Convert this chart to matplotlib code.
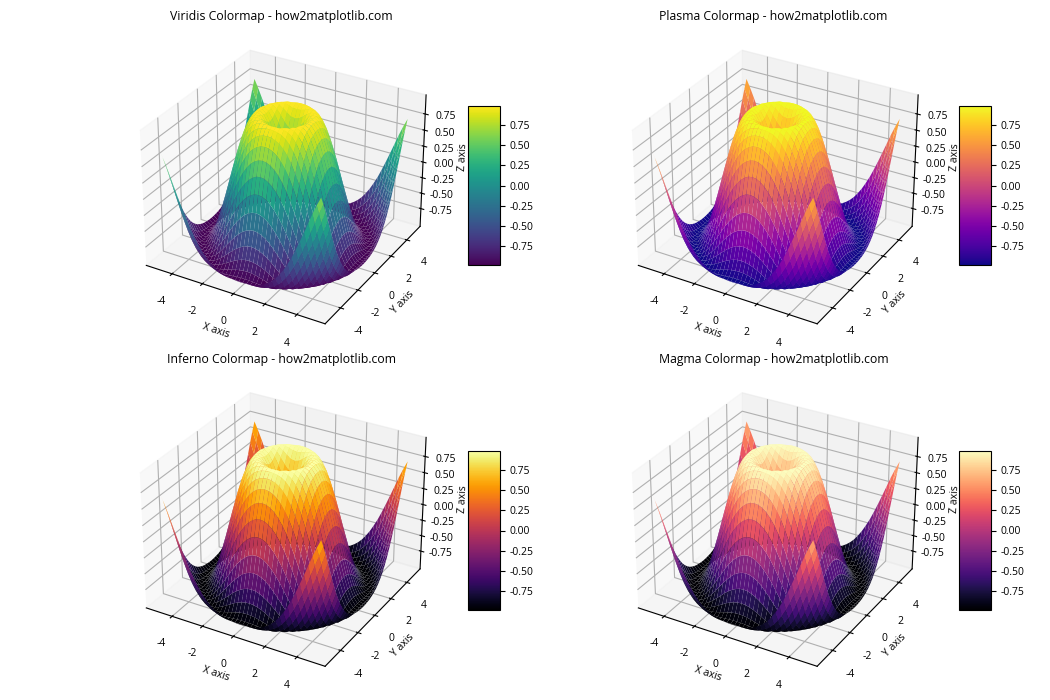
import numpy as np
from matplotlib import pyplot as plt

plt.rcParams['font.family'] = ['Open Sans', 'DejaVu Sans']
plt.rcParams['axes.unicode_minus'] = False

titles = ['Viridis Colormap - how2matplotlib.com', 'Plasma Colormap - how2matplotlib.com',
          'Inferno Colormap - how2matplotlib.com', 'Magma Colormap - how2matplotlib.com']
cmaps = ['viridis', 'plasma', 'inferno', 'magma']
axis_ticks = [-4, -2, 0, 2, 4]
z_ticks = [-0.75, -0.5, -0.25, 0, 0.25, 0.5, 0.75]

# height of the surface, one triangle of the symmetric grid, from centre to corner
z_rows = [
    [0.000],
    [.247, .346],
    [.479, .530, .650],
    [.682, .711, .784, .873],
    [.841, .858, .900, .949, .988],
    [.949, .957, .975, .994, 1.000, .981],
    [.997, .999, 1.000, .994, .973, .928, .853],
    [.984, .981, .969, .945, .903, .837, .742, .619],
    [.909, .903, .882, .845, .787, .706, .598, .465, .308],
    [.778, .769, .742, .696, .629, .537, .425, .287, .131, -.040],
    [.598, .588, .558, .507, .434, .339, .224, .089, -.060, -.220, -.384],
    [.382, .373, .339, .287, .214, .121, .009, -.118, -.256, -.399, -.544, -.679],
    [.141, .131, .100, .049, -.020, -.108, -.211, -.325, -.448, -.572, -.691, -.801, -.892],
    [-.108, -.118, -.146, -.192, -.256, -.333, -.422, -.523, -.625, -.724, -.818, -.898, -.958, -.993],
    [-.351, -.359, -.384, -.422, -.477, -.544, -.618, -.696, -.777, -.852, -.917, -.966, -.995, -.998, -.972],
    [-.572, -.579, -.599, -.632, -.673, -.724, -.783, -.839, -.895, -.943, -.979, -.998, -.996, -.969, -.914, -.831],
    [-.757, -.762, -.777, -.801, -.831, -.869, -.905, -.941, -.971, -.992, -1.000, -.990, -.959, -.904, -.824, -.719, -.586],
    [-.895, -.898, -.908, -.923, -.941, -.960, -.979, -.993, -1.000, -.995, -.977, -.940, -.884, -.805, -.702, -.577, -.431, -.270],
    [-.978, -.979, -.983, -.989, -.995, -.999, -.999, -.993, -.978, -.948, -.907, -.847, -.767, -.671, -.550, -.412, -.260, -.093, .081],
    [-.999, -.999, -.998, -.995, -.990, -.980, -.964, -.940, -.904, -.856, -.792, -.713, -.615, -.505, -.374, -.231, -.073, .091, .257, .419],
    [-.959, -.957, -.950, -.942, -.926, -.904, -.875, -.834, -.783, -.719, -.638, -.546, -.436, -.317, -.179, -.033, .120, .276, .434, .578, .708],
]

# mirror the triangle out to the whole grid
n = len(z_rows) - 1
idx = np.abs(np.arange(-n, n + 1))
z = np.array([[z_rows[max(a, b)][min(a, b)] for b in idx] for a in idx])
x = np.linspace(-5, 5, 2 * n + 1)
xx, yy = np.meshgrid(x, x)

fig = plt.figure(figsize=(10.5, 7), dpi=100)
axes = []
bars = []
for i in range(4):
    ax = fig.add_subplot(2, 2, i + 1, projection='3d')
    surf = ax.plot_surface(xx, yy, z, cmap=cmaps[i], rcount=50, ccount=50)
    ax.set_title(titles[i], fontsize=8.8, pad=2)
    ax.set_xlabel('X axis', fontsize=7.5, labelpad=-2)
    ax.set_ylabel('Y axis', fontsize=7.5, labelpad=-2)
    ax.set_zlabel('Z axis', fontsize=7.5, labelpad=-3)
    ax.set_xticks(axis_ticks)
    ax.set_yticks(axis_ticks)
    ax.set_zticks(z_ticks)
    ax.tick_params(labelsize=7.5)
    ax.tick_params(axis='z', pad=1)
    cb = fig.colorbar(surf, ax=ax, shrink=0.5, aspect=5, ticks=z_ticks)
    cb.ax.tick_params(labelsize=7.5)
    axes.append(ax)
    bars.append(cb)
plt.tight_layout()

# nudge the panels to sit where the reference has them
for i in range(4):
    p = axes[i].get_position()
    w = p.width * 1.012
    h = p.height * 1.012
    cx = p.x0 + p.width / 2 + 3.5 / 1050
    cy = p.y0 + p.height / 2 + 0.5 / 700
    axes[i].set_position([cx - w / 2, cy - h / 2, w, h])
    axes[i].set_title(titles[i], fontsize=8.8, pad=4)
    bars[i].ax.set_aspect('auto')
    bars[i].ax.set_position([(468 + 491 * (i % 2)) / 1050, 1 - (265 + 345 * (i // 2)) / 700, 32 / 1050, 159 / 700])
plt.savefig('out.png')
